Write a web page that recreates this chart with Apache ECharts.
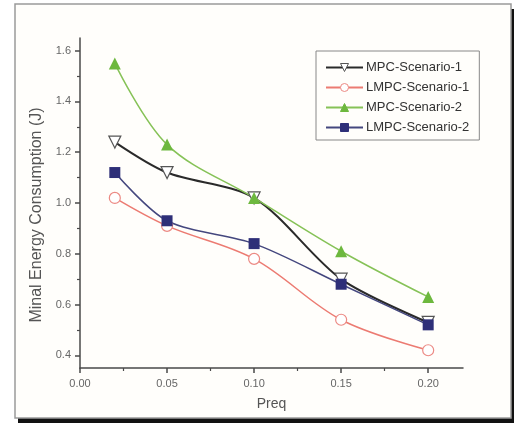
<!DOCTYPE html>
<html>
<head>
<meta charset="utf-8">
<script src="https://cdn.jsdelivr.net/npm/echarts@6/dist/echarts.min.js"></script>
<style>
  html, body { margin: 0; padding: 0; background: #fff; }
  #chart { width: 514px; height: 423px; }
</style>
</head>
<body>
<div id="chart"></div>
<script>
// Preq values on the x axis
const preq = [0.02, 0.05, 0.10, 0.15, 0.20];
// minimal energy consumption (J) per scenario
const mpc1 = [1.24, 1.12, 1.02, 0.70, 0.53];
const lmpc1 = [1.02, 0.91, 0.78, 0.54, 0.42];
const mpc2 = [1.55, 1.23, 1.02, 0.81, 0.63];
const lmpc2 = [1.12, 0.93, 0.84, 0.68, 0.52];
// axis tick positions
const yMajor = [0.4, 0.6, 0.8, 1.0, 1.2, 1.4, 1.6];
const yMinor = [0.5, 0.7, 0.9, 1.1, 1.3, 1.5];
const xMajor = [0, 0.05, 0.10, 0.15, 0.20];
const xMinor = [0.025, 0.075, 0.125, 0.175];

const pairs = ys => preq.map((x, i) => [x, ys[i]]);

const axisCol = '#4a4a4a';
const labelCol = '#666';
const font = 'Liberation Sans, Arial, sans-serif';

const chart = echarts.init(document.getElementById('chart'));

chart.setOption({
    backgroundColor: '#ffffff',
    animation: false,
    graphic: [
        { type: 'rect', z: -10, shape: { x: 18, y: 9, width: 496, height: 414 }, style: { fill: '#111' } },
        { type: 'rect', z: -9, shape: { x: 15, y: 4, width: 496, height: 414 }, style: { fill: '#fffefb', stroke: '#9a9a9a', lineWidth: 1.5 } }
    ],
    grid: { left: 80, top: 38, right: 51, bottom: 55 },
    legend: {
        left: 316, top: 51,
        orient: 'vertical',
        padding: [10, 10, 6, 9],
        borderColor: '#888',
        borderWidth: 1,
        itemWidth: 37, itemHeight: 10, itemGap: 7,
        itemStyle: { borderWidth: 1 },
        textStyle: { fontFamily: font, fontSize: 13, color: '#333', padding: [0, 0, 0, -2] },
        data: ['MPC-Scenario-1', 'LMPC-Scenario-1', 'MPC-Scenario-2', 'LMPC-Scenario-2']
    },
    xAxis: [{
        type: 'value',
        min: 0, max: 0.22,
        name: 'Preq',
        nameLocation: 'middle',
        nameGap: 29,
        nameTextStyle: { fontFamily: font, fontSize: 14, color: '#555' },
        axisLine: { lineStyle: { color: axisCol, width: 1.5 } },
        axisTick: { customValues: xMajor, length: 5, lineStyle: { color: axisCol, width: 1.5 } },
        axisLabel: { customValues: xMajor, margin: 10, fontFamily: font, fontSize: 11, color: labelCol, formatter: v => v.toFixed(2) },
        splitLine: { show: false }
    }, {
        type: 'value',
        position: 'bottom',
        min: 0, max: 0.22,
        axisLine: { show: false },
        axisTick: { customValues: xMinor, length: 3, lineStyle: { color: axisCol, width: 1.2 } },
        axisLabel: { show: false },
        splitLine: { show: false }
    }],
    yAxis: [{
        type: 'value',
        min: 0.35, max: 1.65,
        name: 'Minal Energy Consumption (J)',
        nameLocation: 'middle',
        nameGap: 34,
        nameTextStyle: { fontFamily: font, fontSize: 16, color: '#555', padding: [0, 24, 0, 0] },
        axisLine: { show: true, lineStyle: { color: axisCol, width: 1.5 } },
        axisTick: { show: true, customValues: yMajor, length: 5, lineStyle: { color: axisCol, width: 1.5 } },
        axisLabel: { customValues: yMajor, margin: 9, fontFamily: font, fontSize: 11, color: labelCol, formatter: v => v.toFixed(1) },
        splitLine: { show: false }
    }, {
        type: 'value',
        position: 'left',
        min: 0.35, max: 1.65,
        axisLine: { show: false },
        axisTick: { show: true, customValues: yMinor, length: 3, lineStyle: { color: axisCol, width: 1.2 } },
        axisLabel: { show: false },
        splitLine: { show: false }
    }],
    series: [
        {
            name: 'MPC-Scenario-1', type: 'line', smooth: 0.3,
            data: pairs(mpc1),
            symbol: 'triangle', symbolRotate: 180, symbolSize: 12,
            lineStyle: { color: '#2a2a2a', width: 2 },
            itemStyle: { color: '#fff', borderColor: '#555', borderWidth: 1.2 }
        },
        {
            name: 'LMPC-Scenario-1', type: 'line', smooth: 0.35,
            data: pairs(lmpc1),
            symbol: 'circle', symbolSize: 11,
            lineStyle: { color: '#ec7b72', width: 1.5 },
            itemStyle: { color: '#fff', borderColor: '#ec8a84', borderWidth: 1.2 }
        },
        {
            name: 'MPC-Scenario-2', type: 'line', smooth: 0.35,
            data: pairs(mpc2),
            symbol: 'triangle', symbolSize: 12,
            lineStyle: { color: '#86c257', width: 1.5 },
            itemStyle: { color: '#6db83e', borderColor: '#6db83e', borderWidth: 0 }
        },
        {
            name: 'LMPC-Scenario-2', type: 'line', smooth: 0.3,
            data: pairs(lmpc2),
            symbol: 'rect', symbolSize: 11,
            lineStyle: { color: '#44477e', width: 1.5 },
            itemStyle: { color: '#2e2f78', borderColor: '#2e2f78', borderWidth: 0 }
        }
    ]
});
</script>
</body>
</html>
